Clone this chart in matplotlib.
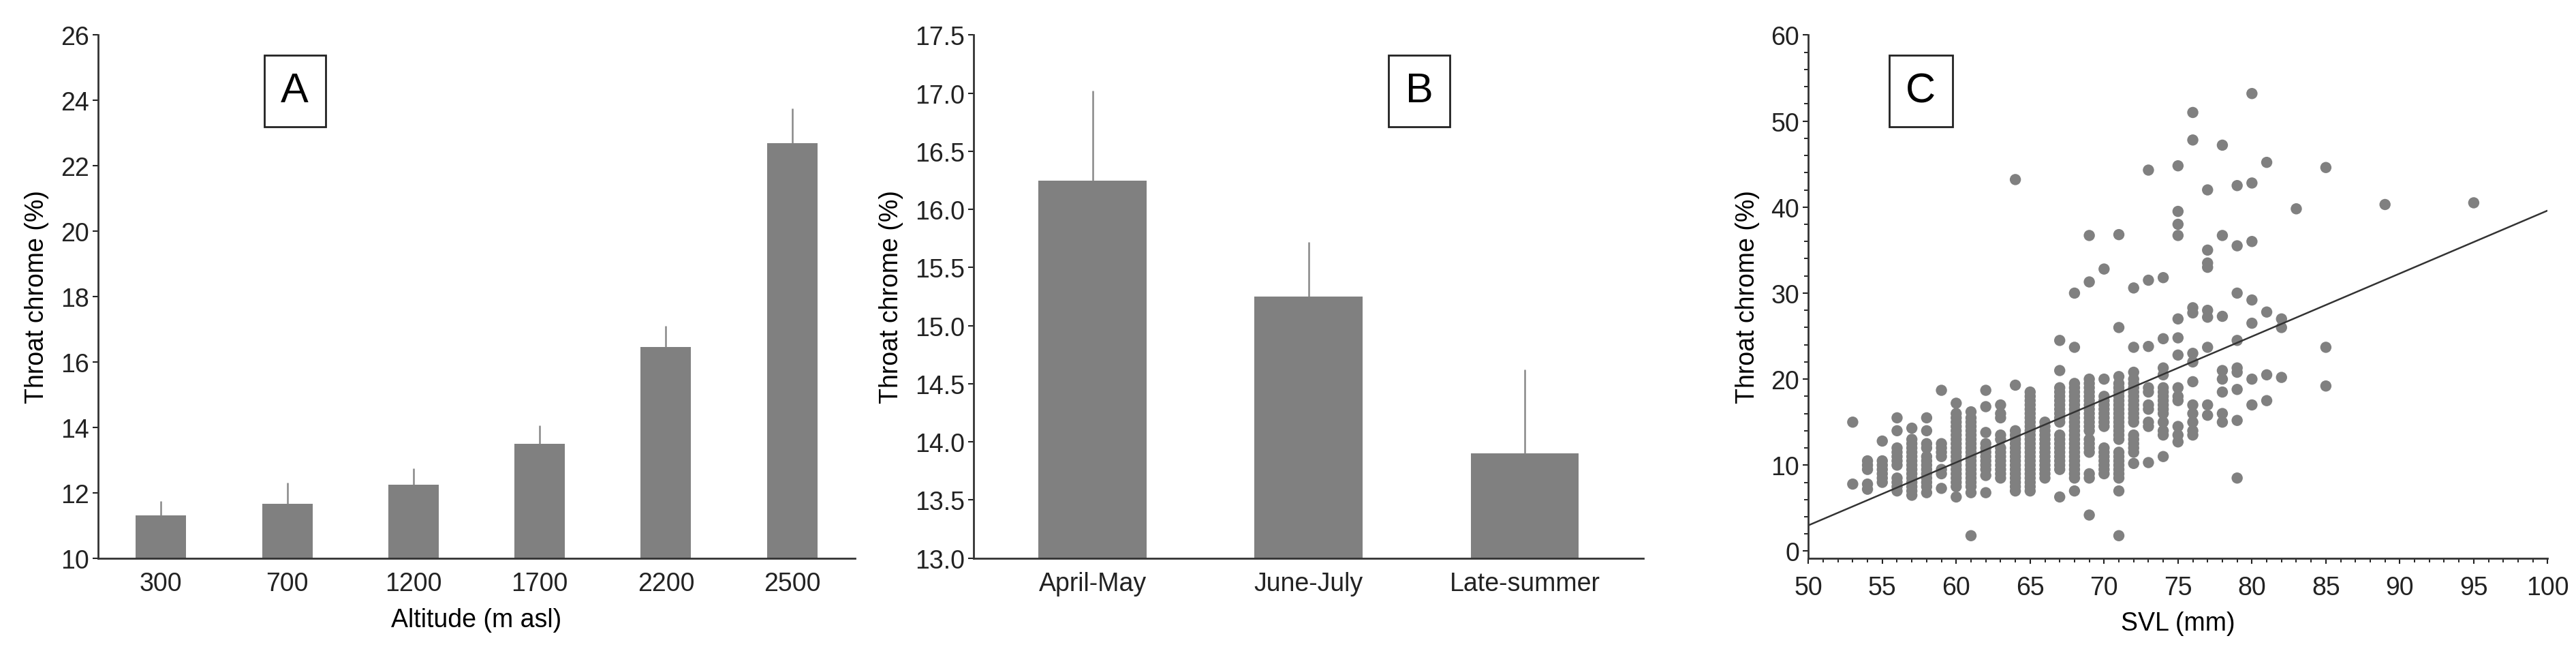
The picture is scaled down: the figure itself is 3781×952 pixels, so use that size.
import matplotlib.pyplot as plt
from matplotlib.ticker import FormatStrFormatter, MultipleLocator

plt.rcParams['font.family'] = ['Liberation Sans', 'DejaVu Sans']

# Panel A: throat chrome by altitude
altitudes = ['300', '700', '1200', '1700', '2200', '2500']
alt_means = [11.3, 11.65, 12.25, 13.5, 16.45, 22.7]
alt_err = [0.45, 0.65, 0.5, 0.55, 0.65, 1.05]

# Panel B: throat chrome by season
seasons = ['April-May', 'June-July', 'Late-summer']
season_means = [16.25, 15.25, 13.9]
season_err = [0.77, 0.47, 0.72]

# Panel C: throat chrome vs SVL (read column by column)
svl_cols = {
    53: [7.8, 15],
    54: [7.2, 7.8, 9.5, 10, 10.5],
    55: [8, 8.5, 9, 9.5, 10, 10.5, 12.8],
    56: [7, 7.5, 8, 8.5, 10, 10.5, 11, 11.5, 12, 14, 15.5],
    57: [6.5, 7, 7.5, 8, 8.5, 9, 9.5, 10, 10.5, 11, 11.5, 12, 12.5, 13, 14.3],
    58: [6.8, 7.5, 8, 8.5, 9, 9.5, 10, 10.5, 11, 12, 12.5, 14, 15.5],
    59: [7.3, 9, 9.5, 11, 11.5, 12, 12.5, 18.7],
    60: [6.3, 7.5, 8, 8.5, 9, 9.5, 10, 10.5, 11, 11.5, 12, 12.5, 13, 13.5, 14, 14.5, 15, 15.5, 16, 17.2],
    61: [1.8, 6.8, 7.5, 8, 8.5, 9, 9.5, 10, 10.5, 11, 11.5, 12, 12.5, 13, 13.5, 14, 14.5, 15, 15.5, 16.2],
    62: [6.8, 8.8, 9.5, 10, 10.5, 11, 11.5, 12, 12.5, 13.8, 16.8, 18.7],
    63: [8.5, 9, 9.5, 10, 10.5, 11, 11.5, 12, 13, 13.5, 15.5, 16, 17],
    64: [7, 7.5, 8, 8.5, 9, 9.5, 10, 10.5, 11, 11.5, 12, 12.5, 13, 13.5, 14, 19.3, 43.2],
    65: [7, 7.5, 8, 8.5, 9, 9.5, 10, 10.5, 11, 11.5, 12, 12.5, 13, 13.5, 14, 14.5, 15, 15.5, 16, 16.5, 17, 17.5, 18, 18.5],
    66: [8.5, 9, 9.5, 10, 10.5, 11, 11.5, 12, 12.5, 13, 13.5, 14, 14.5, 15],
    67: [6.3, 9.5, 10, 10.5, 11, 11.5, 12, 12.5, 13, 13.5, 15, 15.5, 16, 16.5, 17, 17.5, 18, 18.5, 19, 21, 24.5],
    68: [7, 8.5, 9, 9.5, 10, 10.5, 11, 11.5, 12, 12.5, 13, 13.5, 14, 14.5, 15, 15.5, 16, 16.5, 17, 17.5, 18, 18.5, 19, 19.5, 23.7, 30],
    69: [4.2, 8.5, 9, 11.5, 12, 12.5, 13, 14, 14.5, 15, 15.5, 16, 16.5, 17, 17.5, 18, 18.5, 19, 19.5, 20, 31.3, 36.7],
    70: [9, 9.5, 10, 10.5, 11, 11.5, 12, 14.5, 15, 15.5, 16, 16.5, 17, 17.5, 18, 20, 32.8],
    71: [1.8, 7, 8.5, 9, 9.5, 10, 10.5, 11, 11.5, 13, 13.5, 14, 14.5, 15, 15.5, 16, 16.5, 17, 17.5, 18, 18.5, 19, 19.5, 20.3, 26, 36.8],
    72: [10.2, 11.5, 12, 12.5, 13, 13.5, 15, 15.5, 16, 16.5, 17, 17.5, 18, 18.5, 19, 19.5, 20, 20.8, 23.7, 30.6],
    73: [10.3, 14.5, 15, 16.5, 17, 18.5, 19, 23.8, 31.5, 44.3],
    74: [11, 13.5, 14, 15, 16, 16.5, 17, 17.5, 18, 18.5, 19, 20.5, 21.3, 24.7, 31.8],
    75: [12.7, 13.5, 14.5, 17.5, 18, 19, 22.8, 24.8, 27, 36.7, 38, 39.5, 44.8],
    76: [13.5, 14, 15, 16, 17, 19.7, 22, 23, 27.7, 28.3, 47.8, 51],
    77: [15.8, 17, 23.7, 27.2, 28, 33, 33.5, 35, 42],
    78: [15, 16, 18.5, 20, 21, 27.3, 36.7, 47.2],
    79: [8.5, 15.2, 18.8, 20.8, 21.3, 24.5, 30, 35.5, 42.5],
    80: [17, 20, 26.5, 29.2, 36, 42.8, 53.2],
    81: [17.5, 20.5, 27.8, 45.2],
    82: [20.2, 26, 27],
    83: [39.8],
    85: [19.2, 23.7, 44.6],
    89: [40.3],
    95: [40.5],
}
svl = [x for x, ys in svl_cols.items() for _ in ys]
chrome = [y for ys in svl_cols.values() for y in ys]
fit_x = [50, 100]
fit_y = [3.0, 39.6]

bar_color = '#808080'
fs = 27

fig = plt.figure(figsize=(37.81, 9.53), dpi=100)
ax_a = fig.add_axes([0.038, 0.14, 0.294, 0.805])
ax_b = fig.add_axes([0.378, 0.14, 0.26, 0.805])
ax_c = fig.add_axes([0.702, 0.14, 0.287, 0.805])


def style(ax):
    for s in ['top', 'right']:
        ax.spines[s].set_visible(False)
    for s in ['left', 'bottom']:
        ax.spines[s].set_color('#333333')
        ax.spines[s].set_linewidth(2)
    ax.tick_params(labelsize=fs, colors='#222222', length=6, width=1.5)


def label_box(ax, letter, x, y):
    ax.text(x, y, letter, transform=ax.transAxes, fontsize=44, ha='center', va='center',
            bbox=dict(boxstyle='square,pad=0.4', fc='white', ec='#222222', lw=2))


# Panel A
xa = range(len(altitudes))
ax_a.bar(xa, alt_means, width=0.4, color=bar_color)
ax_a.errorbar(xa, alt_means, yerr=[[0] * len(alt_err), alt_err], fmt='none', ecolor='#888888', elinewidth=1.8)
ax_a.set_xticks(list(xa))
ax_a.set_xticklabels(altitudes)
ax_a.set_xlim(-0.5, 5.5)
ax_a.set_ylim(10, 26)
ax_a.set_yticks(range(10, 27, 2))
ax_a.set_xlabel('Altitude (m asl)', fontsize=fs, labelpad=12)
ax_a.set_ylabel('Throat chrome (%)', fontsize=fs, labelpad=12)
style(ax_a)
ax_a.tick_params(axis='x', length=0, pad=14)
label_box(ax_a, 'A', 0.26, 0.893)

# Panel B
xb = range(len(seasons))
ax_b.bar(xb, season_means, width=0.5, color=bar_color)
ax_b.errorbar(xb, season_means, yerr=[[0] * len(season_err), season_err], fmt='none', ecolor='#888888', elinewidth=1.8)
ax_b.set_xticks(list(xb))
ax_b.set_xticklabels(seasons)
ax_b.set_xlim(-0.55, 2.55)
ax_b.set_ylim(13, 17.5)
ax_b.yaxis.set_major_locator(MultipleLocator(0.5))
ax_b.yaxis.set_major_formatter(FormatStrFormatter('%.1f'))
ax_b.set_ylabel('Throat chrome (%)', fontsize=fs, labelpad=12)
style(ax_b)
ax_b.tick_params(axis='x', length=0, pad=14)
label_box(ax_b, 'B', 0.665, 0.893)

# Panel C
ax_c.scatter(svl, chrome, s=140, color=bar_color, edgecolors='none')
ax_c.plot(fit_x, fit_y, color='#333333', lw=1.8)
ax_c.set_xlim(50, 100)
ax_c.set_ylim(-0.8, 60)
ax_c.set_xticks(range(50, 101, 5))
ax_c.set_yticks(range(0, 61, 10))
ax_c.xaxis.set_minor_locator(MultipleLocator(1))
ax_c.yaxis.set_minor_locator(MultipleLocator(2))
ax_c.set_xlabel('SVL (mm)', fontsize=fs, labelpad=12)
ax_c.set_ylabel('Throat chrome (%)', fontsize=fs, labelpad=12)
style(ax_c)
ax_c.tick_params(which='minor', length=4, width=1.2)
ax_c.tick_params(axis='x', pad=12)
label_box(ax_c, 'C', 0.152, 0.893)

fig.savefig('out.png', dpi=100)
